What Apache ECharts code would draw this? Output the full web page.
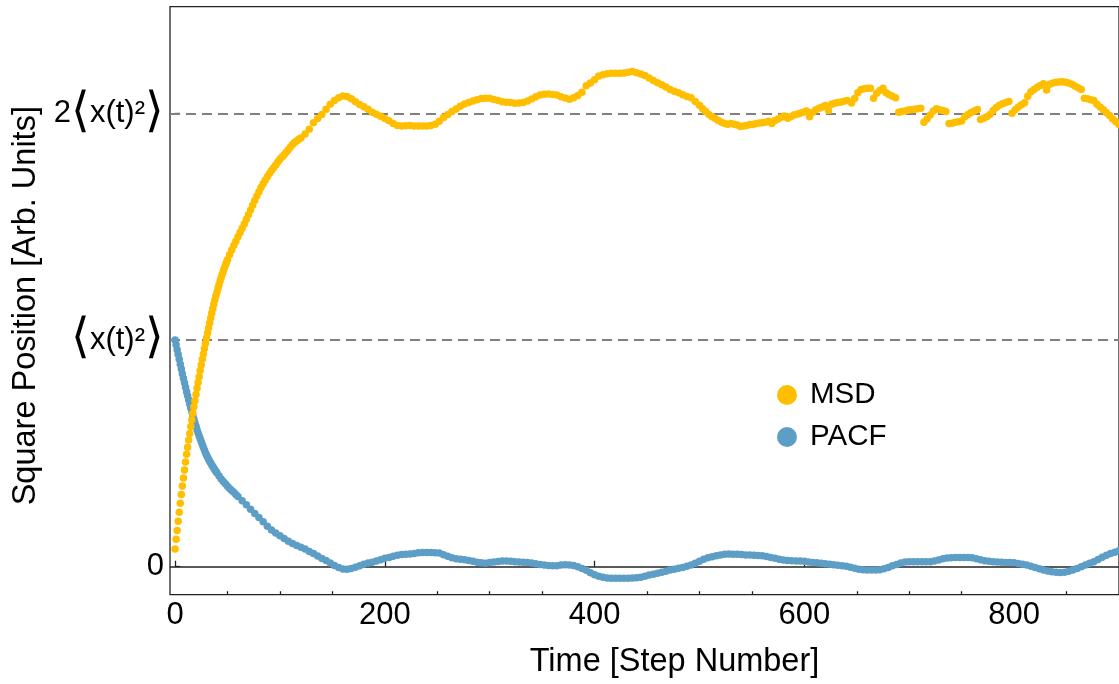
<!DOCTYPE html>
<html>
<head>
<meta charset="utf-8">
<script src="https://cdn.jsdelivr.net/npm/echarts@6/dist/echarts.min.js"></script>
<style>
html,body{margin:0;padding:0;background:#fff;}
#chart{width:1119px;height:684px;}
</style>
</head>
<body>
<div id="chart"></div>
<script>
// ---- data (step, value in units of <x(t)^2>) ----
const msdRise = [[0,0.078],[1,0.121],[2,0.160],[3,0.200],[4,0.240],[5,0.280],[6,0.318],[7,0.356],[8,0.391],[9,0.427],[10,0.462],[11,0.496],[12,0.527],[13,0.559],[14,0.588],[15,0.618],[16,0.647],[17,0.677],[18,0.706],[19,0.732],[20,0.760],[21,0.787],[22,0.813],[23,0.838],[24,0.865],[25,0.890],[26,0.915],[27,0.938],[28,0.962],[29,0.985],[30,1.009],[31,1.031],[32,1.053],[33,1.075],[34,1.097],[35,1.118],[36,1.138],[37,1.158],[38,1.177],[39,1.195],[40,1.212],[41,1.229],[42,1.245],[43,1.261],[44,1.276],[45,1.290],[46,1.304],[47,1.317],[48,1.330],[49,1.342],[50,1.354]];
const msdBend = [[52,1.376],[54,1.397],[56,1.417],[58,1.436],[60,1.455],[62,1.474],[64,1.493],[66,1.512],[68,1.532],[70,1.552],[72,1.573],[74,1.594],[76,1.615],[78,1.635],[80,1.654],[82,1.672],[84,1.689],[86,1.705],[88,1.720],[90,1.734],[92,1.747],[94,1.760],[96,1.772],[98,1.785],[100,1.797],[102,1.807],[104,1.817],[106,1.828],[108,1.839],[110,1.851],[112,1.862],[114,1.871],[116,1.878],[118,1.885],[120,1.891]];
const msdPlateau = [[124,1.908],[128,1.930],[132,1.958],[136,1.977],[140,1.995],[144,2.018],[148,2.040],[152,2.056],[156,2.068],[160,2.076],[164,2.074],[168,2.064],[172,2.051],[176,2.039],[180,2.029],[184,2.018],[188,2.005],[192,1.996],[196,1.987],[200,1.977],[204,1.967],[208,1.955],[212,1.946],[216,1.944],[220,1.945],[224,1.946],[228,1.944],[232,1.944],[236,1.944],[240,1.944],[244,1.946],[248,1.951],[252,1.965],[256,1.981],[260,1.995],[264,2.008],[268,2.019],[272,2.031],[276,2.041],[280,2.047],[284,2.054],[288,2.060],[292,2.065],[296,2.066],[300,2.066],[304,2.061],[308,2.056],[312,2.051],[316,2.049],[320,2.047],[324,2.044],[328,2.045],[332,2.048],[336,2.054],[340,2.063],[344,2.073],[348,2.081],[352,2.084],[356,2.085],[360,2.083],[364,2.080],[368,2.073],[372,2.067],[376,2.062],[380,2.068],[384,2.078],[388,2.093],[392,2.121],[396,2.134],[400,2.148],[404,2.164],[408,2.170],[412,2.174],[416,2.176],[420,2.176],[424,2.176],[428,2.178],[432,2.181],[436,2.184],[440,2.179],[444,2.173],[448,2.166],[452,2.156],[456,2.145],[460,2.135],[464,2.126],[468,2.116],[472,2.105],[476,2.097],[480,2.091],[484,2.082],[488,2.074],[492,2.068],[496,2.052]];
const msdLate = [[500,2.035],[503,2.020],[506,2.008],[509,1.995],[512,1.985],[515,1.977],[518,1.968],[521,1.960],[524,1.955],[527,1.952],[530,1.955],[533,1.952],[536,1.948],[539,1.942],[542,1.944],[545,1.946],[548,1.950],[551,1.950],[554,1.955],[557,1.957],[560,1.958],[563,1.960],[566,1.965],[569,1.955],[572,1.968],[575,1.975],[578,1.982],[581,1.988],[584,1.978],[587,1.985],[590,1.992],[593,1.996],[596,2.000],[599,2.005],[602,2.010],[605,1.985],[608,2.005],[611,2.015],[614,2.022],[617,2.028],[620,2.034],[623,2.012],[626,2.040],[629,2.044],[632,2.047],[635,2.050],[638,2.053],[641,2.056],[645,2.045],[648,2.065],[651,2.090],[654,2.105],[657,2.108],[660,2.110],[663,2.110],[666,2.066],[669,2.088],[672,2.100],[675,2.110],[678,2.090],[681,2.082],[684,2.075],[687,2.068],[690,2.005],[693,2.008],[696,2.010],[699,2.014],[702,2.016],[705,2.018],[708,2.020],[711,2.022],[714,1.960],[717,1.975],[720,1.992],[723,2.010],[726,2.020],[729,2.015],[732,2.012],[735,2.008],[738,1.955],[741,1.956],[744,1.960],[747,1.963],[750,1.966],[753,1.985],[756,1.995],[759,2.003],[762,2.010],[765,2.017],[768,1.972],[771,1.978],[774,1.985],[777,1.995],[780,2.012],[783,2.025],[786,2.035],[789,2.042],[792,2.048],[795,2.052],[798,2.000],[801,2.015],[804,2.028],[807,2.038],[810,2.046],[813,2.075],[816,2.095],[819,2.105],[822,2.115],[825,2.122],[828,2.130],[831,2.103],[834,2.128],[837,2.133],[840,2.137],[843,2.138],[846,2.139],[849,2.137],[852,2.133],[855,2.128],[858,2.120],[861,2.112],[864,2.105],[867,2.066],[870,2.064],[873,2.060],[876,2.056],[879,2.040],[882,2.028],[885,2.015],[888,2.002],[891,1.990],[894,1.975],[897,1.963],[900,1.950]];

const pacfDecay = [[0,1.000],[1,0.979],[2,0.957],[3,0.936],[4,0.915],[5,0.893],[6,0.872],[7,0.851],[8,0.831],[9,0.811],[10,0.791],[11,0.772],[12,0.754],[13,0.736],[14,0.718],[15,0.700],[16,0.683],[17,0.666],[18,0.650],[19,0.634],[20,0.619],[21,0.604],[22,0.590],[23,0.577],[24,0.564],[25,0.551],[26,0.539],[27,0.527],[28,0.515],[29,0.503],[30,0.493],[31,0.483],[32,0.474],[33,0.465],[34,0.457],[35,0.449],[36,0.442],[37,0.434],[38,0.427],[39,0.420],[40,0.413],[42,0.400],[44,0.387],[46,0.376],[48,0.366],[50,0.355],[52,0.345],[54,0.336],[56,0.328],[58,0.319],[60,0.310]];
const pacfTail = [[64,0.291],[68,0.273],[72,0.253],[76,0.235],[80,0.217],[84,0.198],[88,0.178],[92,0.162],[96,0.149],[100,0.136],[104,0.124],[108,0.112],[112,0.102],[116,0.094],[120,0.086],[124,0.078],[128,0.067],[132,0.058],[136,0.047],[140,0.036],[144,0.027],[148,0.016],[152,0.005],[156,-0.004],[160,-0.010],[164,-0.011],[168,-0.008],[172,-0.002],[176,0.004],[180,0.011],[184,0.016],[188,0.020],[192,0.025],[196,0.031],[200,0.037],[204,0.041],[208,0.046],[212,0.051],[216,0.054],[220,0.055],[224,0.056],[228,0.058],[232,0.061],[236,0.063],[240,0.063],[244,0.063],[248,0.062],[252,0.060],[256,0.053],[260,0.046],[264,0.040],[268,0.035],[272,0.033],[276,0.031],[280,0.027],[284,0.024],[288,0.020],[292,0.017],[296,0.015],[300,0.018],[304,0.021],[308,0.023],[312,0.025],[316,0.025],[320,0.024],[324,0.022],[328,0.021],[332,0.020],[336,0.018],[340,0.016],[344,0.013],[348,0.010],[352,0.007],[356,0.005],[360,0.004],[364,0.004],[368,0.007],[372,0.009],[376,0.008],[380,0.005],[384,0.000],[388,-0.008],[392,-0.016],[396,-0.027],[400,-0.035],[404,-0.042],[408,-0.047],[412,-0.050],[416,-0.051],[420,-0.051],[424,-0.051],[428,-0.051],[432,-0.051],[436,-0.050],[440,-0.049],[444,-0.046],[448,-0.042],[452,-0.037],[456,-0.033],[460,-0.029],[464,-0.024],[468,-0.020],[472,-0.015],[476,-0.011],[480,-0.007],[484,-0.003],[488,0.002],[492,0.008],[496,0.015],[500,0.024],[504,0.033],[508,0.040],[512,0.044],[516,0.048],[520,0.052],[524,0.055],[528,0.056],[532,0.055],[536,0.055],[540,0.054],[544,0.052],[548,0.052],[552,0.050],[556,0.049],[560,0.048],[564,0.045],[568,0.041],[572,0.037],[576,0.033],[580,0.030],[584,0.027],[588,0.026],[592,0.025],[596,0.025],[600,0.024],[604,0.021],[608,0.019],[612,0.017],[616,0.015],[620,0.013],[624,0.011],[628,0.009],[632,0.006],[636,0.004],[640,0.002],[644,-0.002],[648,-0.007],[652,-0.011],[656,-0.014],[660,-0.015],[664,-0.015],[668,-0.015],[672,-0.014],[676,-0.009],[680,-0.003],[684,0.004],[688,0.010],[692,0.016],[696,0.021],[700,0.022],[704,0.022],[708,0.022],[712,0.022],[716,0.022],[720,0.022],[724,0.025],[728,0.030],[732,0.035],[736,0.038],[740,0.040],[744,0.041],[748,0.041],[752,0.041],[756,0.041],[760,0.039],[764,0.035],[768,0.031],[772,0.026],[776,0.024],[780,0.022],[784,0.021],[788,0.020],[792,0.019],[796,0.019],[800,0.017],[804,0.014],[808,0.011],[812,0.007],[816,0.002],[820,-0.004],[824,-0.009],[828,-0.015],[832,-0.019],[836,-0.022],[840,-0.025],[844,-0.026],[848,-0.024],[852,-0.020],[856,-0.015],[860,-0.008],[864,0.000],[868,0.007],[872,0.015],[876,0.022],[880,0.032],[884,0.042],[888,0.050],[892,0.058],[896,0.064],[900,0.070]];

// ---- axis ticks / labels ----
const xMajorTicks = [0, 200, 400, 600, 800];
const xMinorTicks = [50, 100, 150, 250, 300, 350, 450, 500, 550, 650, 700, 750, 850];
const yTickValues = [0, 1, 2];
const yTickLabels = ['0', '⟨x(t)²⟩', '2⟨x(t)²⟩'];
const refLines = [1, 2];

const FONT = "'Liberation Sans', Arial, Helvetica, sans-serif";
const AX = '#222222';

const chart = echarts.init(document.getElementById('chart'), null, {renderer: 'canvas'});

function yLabel(v) {
  const i = yTickValues.indexOf(v);
  if (i < 0) return '';
  return yTickLabels[i].replace('⟨', '{b|⟨}').replace('⟩', '{b|⟩}');
}

chart.setOption({
  animation: false,
  backgroundColor: '#ffffff',
  grid: {left: 170, top: 6.7, width: 951, height: 588, show: true, borderColor: AX, borderWidth: 1.3, backgroundColor: 'transparent'},
  legend: {
    data: ['MSD', 'PACF'],
    orient: 'vertical',
    left: 777, top: 380,
    padding: 0,
    itemWidth: 20, itemHeight: 20, itemGap: 12,
    icon: 'circle',
    textStyle: {fontFamily: FONT, fontSize: 29.5, color: '#000', lineHeight: 30, padding: [0, 0, 0, 8]}
  },
  xAxis: [{
    type: 'value', min: -4.8, max: 900, position: 'bottom',
    name: 'Time [Step Number]', nameLocation: 'middle', nameGap: 51,
    nameTextStyle: {fontFamily: FONT, fontSize: 32.5, color: '#000', padding: [0, 0, 0, 60]},
    axisLine: {show: false},
    axisTick: {show: true, inside: true, length: 6, customValues: xMajorTicks, lineStyle: {color: AX, width: 1.3}},
    axisLabel: {show: true, customValues: xMajorTicks, margin: 5, fontFamily: FONT, fontSize: 31, color: '#000'},
    splitLine: {show: false}
  }, {
    type: 'value', min: -4.8, max: 900, position: 'bottom',
    axisLine: {show: false},
    axisTick: {show: true, inside: true, length: 3.5, customValues: xMinorTicks, lineStyle: {color: AX, width: 1.3}},
    axisLabel: {show: false},
    splitLine: {show: false}
  }],
  yAxis: {
    type: 'value', min: -0.1235, max: 2.47,
    name: 'Square Position [Arb. Units]', nameLocation: 'middle', nameGap: 126,
    nameTextStyle: {fontFamily: FONT, fontSize: 32.5, color: '#000', padding: [0, 10, 0, 0]},
    axisLine: {show: false},
    axisTick: {show: true, inside: true, length: 5, customValues: yTickValues, lineStyle: {color: AX, width: 1.3}},
    axisLabel: {
      show: true, customValues: yTickValues, margin: 6,
      fontFamily: FONT, fontSize: 31, color: '#000',
      formatter: yLabel,
      rich: {b: {fontFamily: "'DejaVu Sans ExtraLight', 'DejaVu Sans', sans-serif", fontSize: 48, color: '#000', fontWeight: 200}}
    },
    splitLine: {show: false}
  },
  series: [
    {
      name: 'refs', type: 'scatter', data: [], silent: true, z: 1,
      markLine: {
        silent: true, symbol: ['none', 'none'], z: 1, animation: false,
        label: {show: false},
        data: [
          {yAxis: 0, lineStyle: {color: AX, type: 'solid', width: 1.5}}
        ].concat(refLines.map(v => ({yAxis: v, lineStyle: {color: '#808080', type: [10, 6], width: 2}})))
      }
    },
    {
      name: 'PACF', type: 'scatter', z: 2,
      symbol: 'circle', symbolSize: 7.5,
      itemStyle: {color: '#5D9EC7', opacity: 1},
      data: pacfDecay.concat(pacfTail)
    },
    {
      name: 'MSD', type: 'scatter', z: 3,
      symbol: 'circle', symbolSize: 7.5,
      itemStyle: {color: '#FFBF00', opacity: 1},
      data: msdRise.concat(msdBend, msdPlateau, msdLate)
    }
  ]
});
</script>
</body>
</html>
